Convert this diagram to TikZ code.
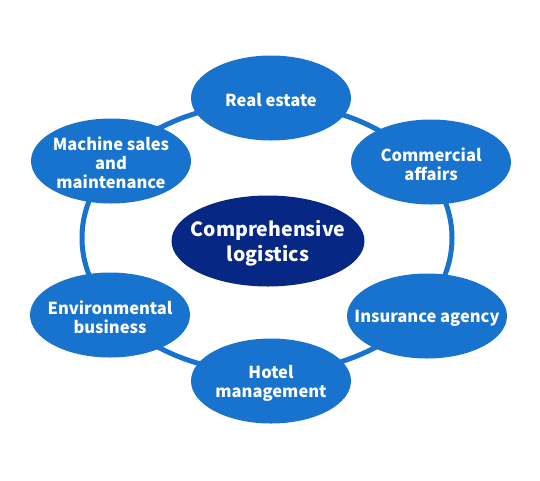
\documentclass[tikz,border=0pt]{standalone}
\usepackage{fontspec}
\setmainfont{Noto Sans CJK JP}
\usetikzlibrary{shapes.geometric}
\definecolor{outerblue}{RGB}{24,115,206}
\definecolor{navy}{RGB}{6,40,132}
\tikzset{
  outer/.style={ellipse, fill=outerblue, inner sep=0pt,
    minimum width=160pt, minimum height=85pt},
  hub/.style={ellipse, fill=navy, inner sep=0pt,
    minimum width=193pt, minimum height=91pt},
  lbl/.style={text=white, inner sep=0pt, align=center, yshift=-2pt,
    font=\fontsize{16.5}{18.8}\selectfont\bfseries},
  hublbl/.style={text=white, inner sep=0pt, align=center, yshift=-2pt,
    font=\fontsize{19.5}{24.5}\selectfont\bfseries},
  ring/.style={draw=outerblue, line width=5pt}
}
\begin{document}
\begin{tikzpicture}[x=1pt,y=-1pt]
\useasboundingbox (0,0) rectangle (540,480);
\coordinate (rc) at (267,238);
\draw[ring] (rc) ellipse [x radius=185, y radius=135];
\node[outer] (re) at (271,98) {};
\node[outer] (ca) at (431,162) {};
\node[outer] (ia) at (427,316) {};
\node[outer] (hm) at (271,381) {};
\node[outer] (eb) at (110,315) {};
\node[outer] (ms) at (111,161) {};
\node[hub] (cl) at (268,241) {};
\node[lbl] (reT) at (re) {Real estate};
\node[lbl] (caT) at (ca) {Commercial\\affairs};
\node[lbl] (iaT) at (ia) {Insurance agency};
\node[lbl] (hmT) at (hm) {Hotel\\management};
\node[lbl] (ebT) at (eb) {Environmental\\business};
\node[lbl] (msT) at (ms) {Machine sales\\and\\maintenance};
\node[hublbl] (clT) at (cl) {Comprehensive\\logistics};
\end{tikzpicture}
\end{document}
